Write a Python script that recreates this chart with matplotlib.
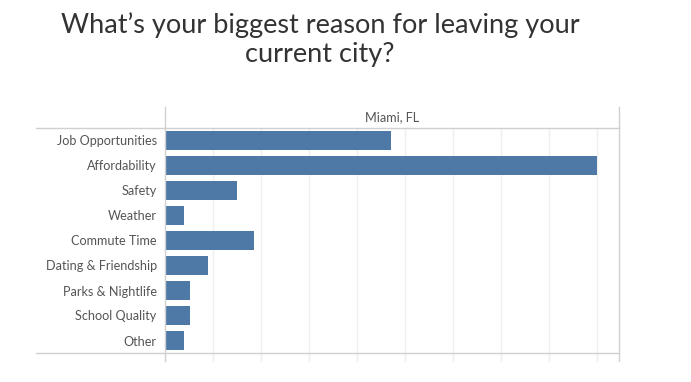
import matplotlib
matplotlib.use("Agg")
import matplotlib.pyplot as plt
from matplotlib.lines import Line2D
import matplotlib.transforms as mtransforms

categories = ["Job Opportunities", "Affordability", "Safety", "Weather", "Commute Time",
              "Dating & Friendship", "Parks & Nightlife", "School Quality", "Other"]
values = [23.5, 45.0, 7.5, 2.0, 9.3, 4.5, 2.6, 2.6, 2.0]
grid_values = [5, 10, 15, 20, 25, 30, 35, 40, 45]
header = "Miami, FL"
title = "What\u2019s your biggest reason for leaving your\ncurrent city?"

W, H = 691, 382
fig = plt.figure(figsize=(W / 100, H / 100), dpi=100)
x0, x1 = 165, 619
ytop, ybot = 128, 353
ax = fig.add_axes([x0 / W, 1 - ybot / H, (x1 - x0) / W, (ybot - ytop) / H])

ypos = list(range(len(categories)))
ax.barh(ypos, values, height=0.76, color="#4e79a7", zorder=3)
ax.set_ylim(len(categories) - 0.5, -0.5)
ax.set_xlim(0, 47.3)
ax.set_xticks(grid_values)
ax.xaxis.grid(True, color="#efefef", linewidth=1, zorder=0)
ax.tick_params(axis="x", length=0, labelbottom=False)
ax.set_yticks(ypos)
ax.set_yticklabels(categories, fontsize=9.1, color="#555555", family="Lato")
ax.tick_params(axis="y", length=0, pad=6)
for s in ax.spines.values():
    s.set_visible(False)

# short gridline extensions below the bottom rule
trans = mtransforms.blended_transform_factory(ax.transData, fig.transFigure)
for g in grid_values:
    ax.plot([g, g], [1 - ybot / H, 1 - 361 / H], color="#efefef", lw=1,
            transform=trans, clip_on=False)

lc = "#d0d0d0"
def fx(px): return px / W
def fy(py): return 1 - py / H
fig.add_artist(Line2D([fx(36), fx(x1)], [fy(ytop), fy(ytop)], color=lc, lw=1))
fig.add_artist(Line2D([fx(36), fx(x1)], [fy(ybot), fy(ybot)], color=lc, lw=1))
fig.add_artist(Line2D([fx(x0), fx(x0)], [fy(107), fy(361)], color=lc, lw=1))
fig.add_artist(Line2D([fx(x1), fx(x1)], [fy(107), fy(361)], color=lc, lw=1))
fig.text((x0 + x1) / 2 / W, fy(117), header, ha="center", va="center",
         fontsize=9.1, color="#555555", family="Lato")

fig.text(fx(320), fy(40), title, ha="center", va="center", fontsize=19.5,
         color="#333333", family="Lato", linespacing=1.2)

fig.savefig("out.png", dpi=100)
